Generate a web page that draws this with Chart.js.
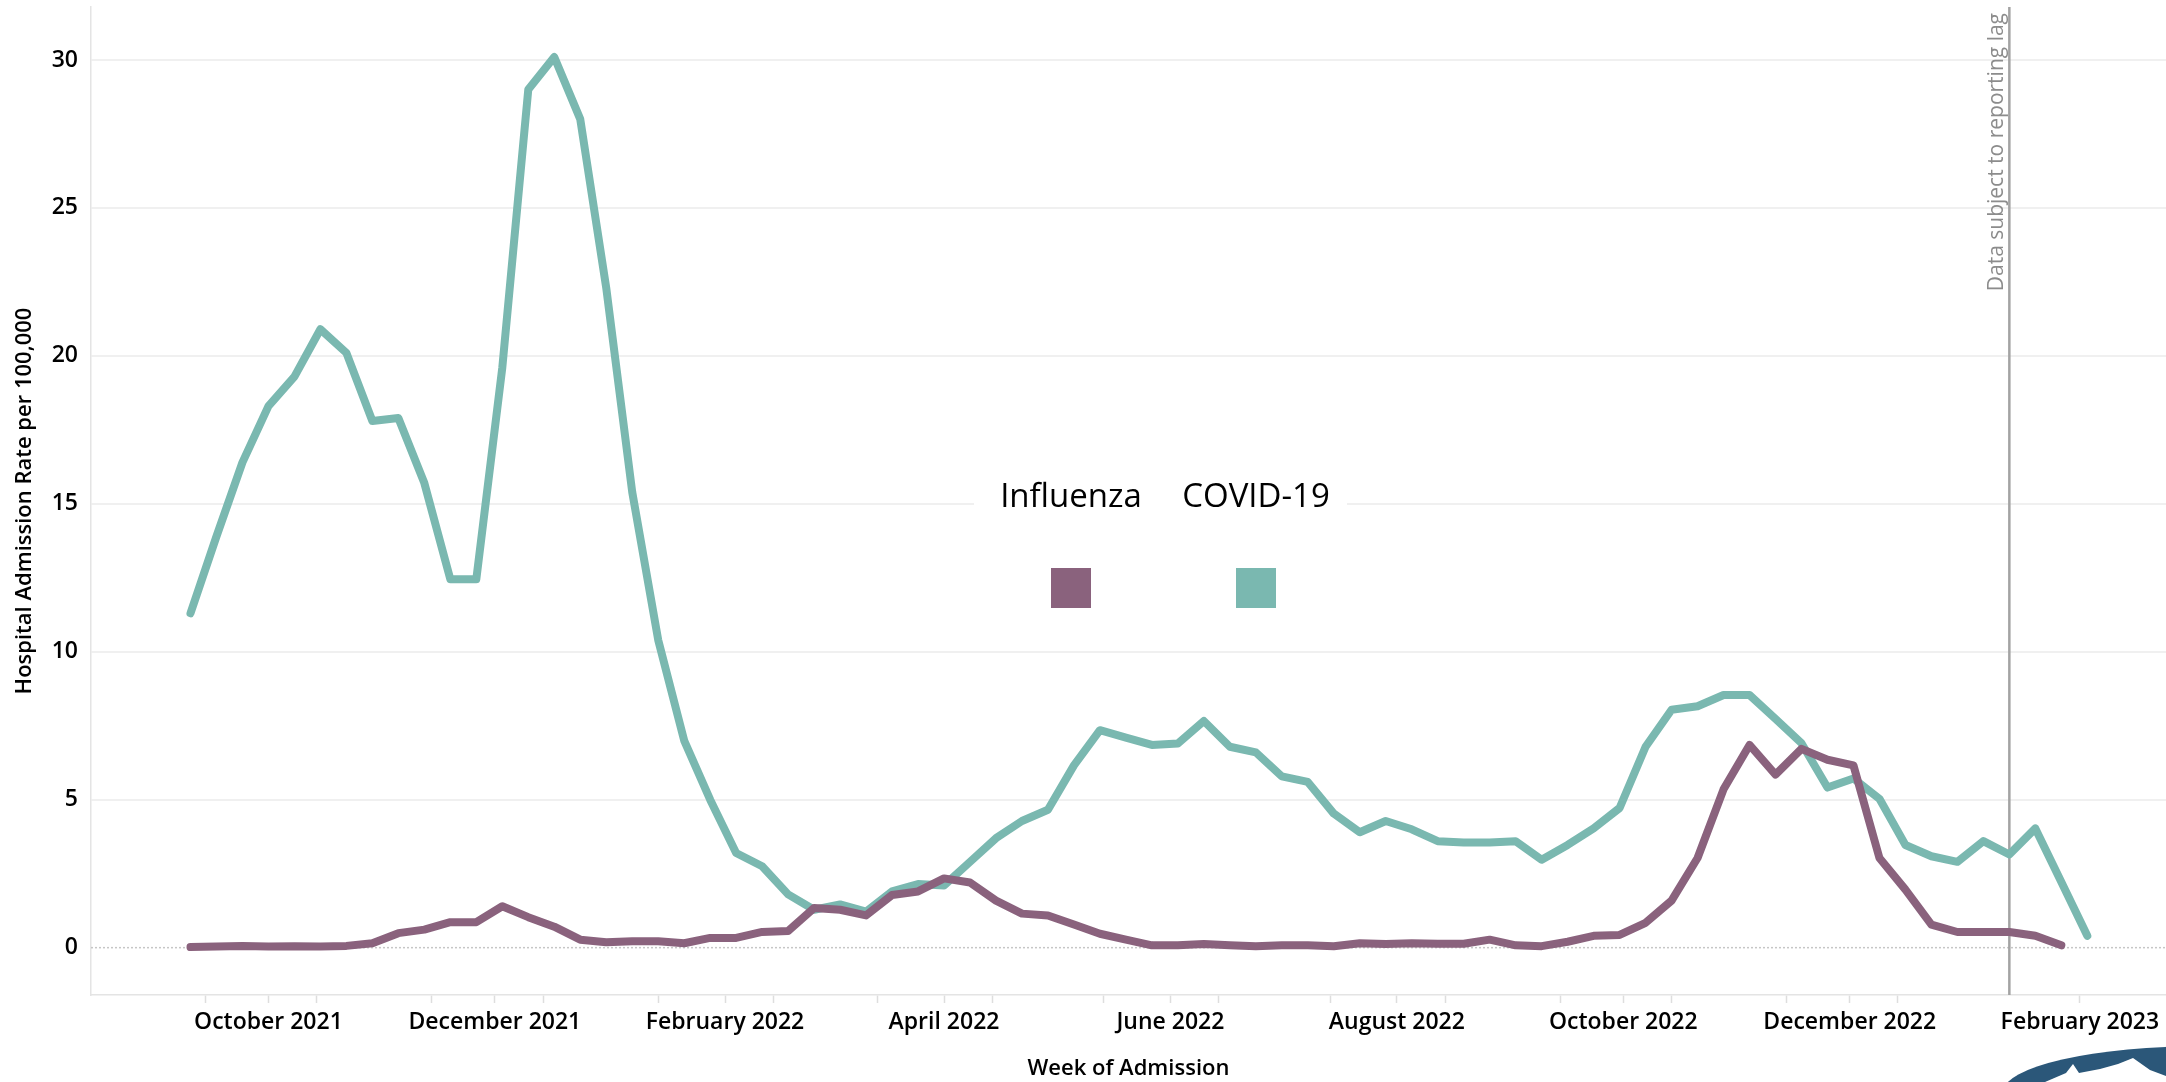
<!DOCTYPE html>
<html>
<head>
<meta charset="utf-8">
<title>Hospital Admission Rate per 100,000</title>
<script src="https://cdn.jsdelivr.net/npm/chart.js@4.4.0/dist/chart.umd.min.js"></script>
<style>
  html, body { margin: 0; padding: 0; background: #fff; }
  #wrap { width: 2166px; height: 1082px; position: relative; }
</style>
</head>
<body>
<div id="wrap"><canvas id="admissionChart"></canvas></div>
<script>
// Week of admission, one point per week
const weeks = [
    '2021-09-10', '2021-09-17', '2021-09-24', '2021-10-01', '2021-10-08', '2021-10-15', '2021-10-22', '2021-10-29',
    '2021-11-05', '2021-11-12', '2021-11-19', '2021-11-26', '2021-12-03', '2021-12-10', '2021-12-17', '2021-12-24',
    '2021-12-31', '2022-01-07', '2022-01-14', '2022-01-21', '2022-01-28', '2022-02-04', '2022-02-11', '2022-02-18',
    '2022-02-25', '2022-03-04', '2022-03-11', '2022-03-18', '2022-03-25', '2022-04-01', '2022-04-08', '2022-04-15',
    '2022-04-22', '2022-04-29', '2022-05-06', '2022-05-13', '2022-05-20', '2022-05-27', '2022-06-03', '2022-06-10',
    '2022-06-17', '2022-06-24', '2022-07-01', '2022-07-08', '2022-07-15', '2022-07-22', '2022-07-29', '2022-08-05',
    '2022-08-12', '2022-08-19', '2022-08-26', '2022-09-02', '2022-09-09', '2022-09-16', '2022-09-23', '2022-09-30',
    '2022-10-07', '2022-10-14', '2022-10-21', '2022-10-28', '2022-11-04', '2022-11-11', '2022-11-18', '2022-11-25',
    '2022-12-02', '2022-12-09', '2022-12-16', '2022-12-23', '2022-12-30', '2023-01-06', '2023-01-13', '2023-01-20',
    '2023-01-27', '2023-02-03'
];

const covidRates = [
    11.3, 13.9, 16.4, 18.3, 19.3, 20.9, 20.1, 17.8, 17.9, 15.7, 12.45, 12.45, 19.6, 29.0, 30.1, 28.0,
    22.3, 15.4, 10.4, 7.0, 5.0, 3.2, 2.75, 1.8, 1.28, 1.46, 1.22, 1.9, 2.15, 2.1, 2.9, 3.7,
    4.28, 4.66, 6.16, 7.35, 7.1, 6.85, 6.9, 7.66, 6.79, 6.6, 5.79, 5.6, 4.53, 3.9, 4.28, 4.0,
    3.6, 3.55, 3.55, 3.6, 2.97, 3.47, 4.03, 4.72, 6.79, 8.04, 8.16, 8.54, 8.54, 7.73, 6.91, 5.41,
    5.72, 5.03, 3.47, 3.09, 2.9, 3.6, 3.15, 4.03, 2.22, 0.4
];

const fluRates = [
    0.02, 0.04, 0.06, 0.04, 0.05, 0.04, 0.06, 0.15, 0.49, 0.61, 0.86, 0.86, 1.4, 1.03, 0.71, 0.27,
    0.18, 0.22, 0.22, 0.15, 0.33, 0.33, 0.53, 0.56, 1.34, 1.28, 1.09, 1.78, 1.9, 2.34, 2.2, 1.59,
    1.15, 1.09, 0.78, 0.47, 0.27, 0.08, 0.08, 0.12, 0.08, 0.05, 0.08, 0.08, 0.05, 0.15, 0.12, 0.15,
    0.13, 0.13, 0.27, 0.08, 0.05, 0.2, 0.4, 0.43, 0.84, 1.59, 3.03, 5.35, 6.85, 5.85, 6.72, 6.35,
    6.16, 3.03, 1.96, 0.78, 0.53, 0.53, 0.53, 0.4, 0.08
];

// axis ticks
const yTicks = [0, 5, 10, 15, 20, 25, 30];
const monthTicks = [
    '2021-10-01', '2021-12-01', '2022-02-01', '2022-04-01', '2022-06-01',
    '2022-08-01', '2022-10-01', '2022-12-01', '2023-02-01'
];
const minorTicks = [
    '2021-09-14', '2021-10-14', '2021-11-14', '2021-12-14', '2022-01-14', '2022-02-14', '2022-03-14',
    '2022-04-14', '2022-05-14', '2022-06-14', '2022-07-14', '2022-08-14', '2022-09-14', '2022-10-14',
    '2022-11-14', '2022-12-14'
];
const monthNames = ['January', 'February', 'March', 'April', 'May', 'June', 'July',
    'August', 'September', 'October', 'November', 'December'];
const lagStart = '2023-01-13';

const DAY = 864e5;
const origin = Date.parse('2021-10-01');
const colors = { flu: '#8a627d', covid: '#7ab8b0' };

Chart.defaults.font.family = "'Open Sans', 'DejaVu Sans', sans-serif";
Chart.defaults.color = '#000';

// dotted zero line, legend, reporting lag marker and logo
const decorations = {
    id: 'decorations',
    beforeDatasetsDraw(chart) {
        const { ctx, chartArea: area, scales: { x, y } } = chart;
        ctx.save();
        const y0 = y.getPixelForValue(0);
        ctx.strokeStyle = '#c6c6c6';
        ctx.lineWidth = 1.5;
        ctx.setLineDash([2, 2]);
        ctx.beginPath();
        ctx.moveTo(area.left, y0);
        ctx.lineTo(area.right, y0);
        ctx.stroke();
        ctx.setLineDash([]);

        // white backing behind the floating legend
        ctx.fillStyle = '#fff';
        ctx.fillRect(974, 470, 373, 155);

        const xl = x.getPixelForValue(Date.parse(lagStart));
        ctx.strokeStyle = '#a3a3a3';
        ctx.lineWidth = 2.5;
        ctx.beginPath();
        ctx.moveTo(xl, area.top);
        ctx.lineTo(xl, area.bottom);
        ctx.stroke();
        ctx.translate(xl - 12, area.top + 6);
        ctx.rotate(-Math.PI / 2);
        ctx.fillStyle = '#8c8c8c';
        ctx.font = "21px 'Open Sans'";
        ctx.textAlign = 'right';
        ctx.textBaseline = 'middle';
        ctx.fillText('Data subject to reporting lag', 0, 0);
        ctx.restore();
    },
    afterDraw(chart) {
        const ctx = chart.ctx;
        ctx.save();
        const centers = [1071, 1256];
        ctx.font = "33px 'Open Sans'";
        ctx.textAlign = 'center';
        ctx.textBaseline = 'alphabetic';
        chart.data.datasets.forEach((ds, i) => {
            ctx.fillStyle = '#000';
            ctx.fillText(ds.label, centers[i], 507);
            ctx.fillStyle = ds.borderColor;
            ctx.fillRect(centers[i] - 20, 568, 40, 40);
        });

        // logo corner
        ctx.fillStyle = '#2b5779';
        ctx.beginPath();
        ctx.ellipse(2205, 1092, 202, 46, 0, 0, Math.PI * 2);
        ctx.fill();
        ctx.fillStyle = '#fff';
        ctx.beginPath();
        ctx.moveTo(2045, 1082);
        ctx.lineTo(2066, 1073);
        ctx.lineTo(2073, 1064);
        ctx.lineTo(2079, 1073);
        ctx.lineTo(2100, 1069);
        ctx.lineTo(2118, 1064);
        ctx.lineTo(2133, 1058);
        ctx.lineTo(2150, 1070);
        ctx.lineTo(2166, 1076);
        ctx.lineTo(2166, 1082);
        ctx.closePath();
        ctx.fill();
        ctx.restore();
    }
};

const admissionChart = new Chart(
    document.getElementById('admissionChart'),
    {
        type: 'line',
        data: {
            datasets: [{
                label: 'Influenza',
                data: fluRates.map((v, i) => ({ x: Date.parse(weeks[i]), y: v })),
                borderColor: colors.flu,
                backgroundColor: colors.flu,
                borderWidth: 8,
                borderJoinStyle: 'round',
                borderCapStyle: 'round',
                pointRadius: 0,
                tension: 0
            }, {
                label: 'COVID-19',
                data: covidRates.map((v, i) => ({ x: Date.parse(weeks[i]), y: v })),
                borderColor: colors.covid,
                backgroundColor: colors.covid,
                borderWidth: 8,
                borderJoinStyle: 'round',
                borderCapStyle: 'round',
                pointRadius: 0,
                tension: 0
            }]
        },
        options: {
            responsive: true,
            maintainAspectRatio: false,
            animation: false,
            layout: { padding: { top: 7, right: 0, left: 0, bottom: 0 } },
            plugins: {
                legend: { display: false },
                tooltip: { enabled: false }
            },
            scales: {
                x: {
                    type: 'linear',
                    min: origin - 47.8 * DAY,
                    max: origin + 511.2 * DAY,
                    afterBuildTicks: scale => {
                        scale.ticks = monthTicks.concat(minorTicks)
                            .map(d => ({ value: Date.parse(d) }))
                            .sort((a, b) => a.value - b.value);
                    },
                    afterFit: scale => {
                        scale.height = 87;
                        scale.paddingLeft = 0;
                        scale.paddingRight = 0;
                    },
                    ticks: {
                        autoSkip: false,
                        maxRotation: 0,
                        padding: 6,
                        color: '#000',
                        font: { size: 23, weight: '600' },
                        callback: value => {
                            if (!monthTicks.some(d => Date.parse(d) === value)) return '';
                            const d = new Date(value);
                            return monthNames[d.getUTCMonth()] + ' ' + d.getUTCFullYear();
                        }
                    },
                    grid: {
                        drawOnChartArea: false,
                        drawTicks: true,
                        tickLength: 8,
                        tickColor: '#dedede',
                        tickWidth: 1.5
                    },
                    border: { color: '#e4e4e4', width: 1.5 },
                    title: {
                        display: true,
                        text: 'Week of Admission',
                        color: '#000',
                        font: { size: 22, weight: '600' },
                        padding: { top: 0, bottom: 0 }
                    }
                },
                y: {
                    min: -1.6,
                    max: 31.79,
                    afterBuildTicks: scale => {
                        scale.ticks = yTicks.map(v => ({ value: v }));
                    },
                    afterFit: scale => {
                        scale.width = 91;
                        scale.paddingTop = 0;
                        scale.paddingBottom = 0;
                    },
                    ticks: {
                        padding: 13,
                        color: '#000',
                        font: { size: 23, weight: '600' }
                    },
                    grid: {
                        drawTicks: false,
                        lineWidth: 2,
                        color: ctx => (ctx.tick && ctx.tick.value === 0) ? 'rgba(0,0,0,0)' : '#f0f0f0'
                    },
                    border: { color: '#e4e4e4', width: 1.5 },
                    title: {
                        display: true,
                        text: 'Hospital Admission Rate per 100,000',
                        color: '#000',
                        font: { size: 22, weight: '600' },
                        padding: { top: 12, bottom: 0 }
                    }
                }
            }
        },
        plugins: [decorations]
    }
);
</script>
</body>
</html>
